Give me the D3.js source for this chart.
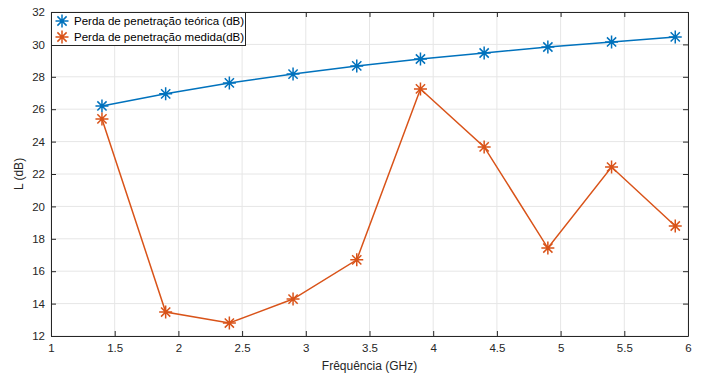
<!DOCTYPE html>
<html><head><meta charset="utf-8">
<script src="https://cdn.jsdelivr.net/npm/d3@7"></script>
<style>body{margin:0;background:#fff}svg{font-family:Arial,"Liberation Sans",sans-serif}</style>
</head><body><svg id="c" width="723" height="374"></svg>
<script>
const freq = [1.4,1.9,2.4,2.9,3.4,3.9,4.4,4.9,5.4,5.9];
const teorica = [26.2,26.95,27.62,28.17,28.67,29.1,29.47,29.84,30.15,30.46];
const medida = [25.4,13.48,12.8,14.28,16.7,27.25,23.67,17.43,22.43,18.79];
const seriesNames = ["Perda de penetração teórica (dB)","Perda de penetração medida(dB)"];
const xTicks = [1,1.5,2,2.5,3,3.5,4,4.5,5,5.5,6];
const yTicks = [12,14,16,18,20,22,24,26,28,30,32];
const colors = ["#0072BD","#D95319"];

const svg = d3.select("#c");
const L=51,R=688,T=12,B=336;
const x = d3.scaleLinear().domain([1,6]).range([L,R]);
const y = d3.scaleLinear().domain([12,32]).range([B,T]);
const axC="#262626", txtC="#262626";

// grid
svg.append("g").selectAll("line.gx").data(xTicks).join("line")
 .attr("x1",d=>x(d)).attr("x2",d=>x(d)).attr("y1",T).attr("y2",B)
 .attr("stroke","#e6e6e6").attr("stroke-width",1);
svg.append("g").selectAll("line.gy").data(yTicks).join("line")
 .attr("y1",d=>y(d)).attr("y2",d=>y(d)).attr("x1",L).attr("x2",R)
 .attr("stroke","#e6e6e6").attr("stroke-width",1);

// axes
const xa = svg.append("g").attr("transform",`translate(0,${B})`)
 .call(d3.axisBottom(x).tickValues(xTicks).tickSizeInner(-5).tickSizeOuter(0).tickPadding(8).tickFormat(d3.format("")));
const ya = svg.append("g").attr("transform",`translate(${L},0)`)
 .call(d3.axisLeft(y).tickValues(yTicks).tickSizeInner(-5).tickSizeOuter(0).tickPadding(6));
const xt = svg.append("g").attr("transform",`translate(0,${T})`)
 .call(d3.axisTop(x).tickValues(xTicks).tickSizeInner(-5).tickSizeOuter(0).tickFormat(""));
const yr = svg.append("g").attr("transform",`translate(${R},0)`)
 .call(d3.axisRight(y).tickValues(yTicks).tickSizeInner(-5).tickSizeOuter(0).tickFormat(""));
[xa,ya,xt,yr].forEach(g=>{
 g.select(".domain").attr("stroke",axC).attr("stroke-width",1);
 g.selectAll(".tick line").attr("stroke",axC);
 g.selectAll(".tick text").attr("fill",txtC).attr("font-size",11.5).attr("font-family","Arial,'Liberation Sans',sans-serif");
});

// labels
svg.append("text").attr("x",(L+R)/2).attr("y",370).attr("text-anchor","middle")
 .attr("font-size",12).attr("fill",txtC).text("Frêquência (GHz)");
svg.append("text").attr("transform",`translate(23,${(T+B)/2}) rotate(-90)`).attr("text-anchor","middle")
 .attr("font-size",12).attr("fill",txtC).text("L (dB)");

const star = r => `M0,${-r}L0,${r}M${-r},0L${r},0M${-r*0.71},${-r*0.71}L${r*0.71},${r*0.71}M${-r*0.71},${r*0.71}L${r*0.71},${-r*0.71}`;
const line = d3.line().x((d,i)=>x(freq[i])).y(d=>y(d));
[teorica,medida].forEach((s,k)=>{
 svg.append("path").datum(s).attr("d",line).attr("fill","none").attr("stroke",colors[k]).attr("stroke-width",1.5);
 svg.append("g").selectAll("path").data(s).join("path")
  .attr("transform",(d,i)=>`translate(${x(freq[i])},${y(d)})`).attr("d",star(6.5))
  .attr("stroke",colors[k]).attr("stroke-width",1.5).attr("fill","none");
});

// legend
const lg = svg.append("g");
lg.append("rect").attr("x",L+0.5).attr("y",T+0.5).attr("width",194).attr("height",33)
 .attr("fill","#fff").attr("stroke",axC).attr("stroke-width",1);
seriesNames.forEach((n,k)=>{
 const yy = T+9+k*16;
 lg.append("path").attr("transform",`translate(${L+11},${yy})`).attr("d",star(6.5))
  .attr("stroke",colors[k]).attr("stroke-width",1.5).attr("fill","none");
 lg.append("text").attr("x",L+23).attr("y",yy+4).attr("font-size",11.5).attr("fill","#000").text(n);
});
</script></body></html>
